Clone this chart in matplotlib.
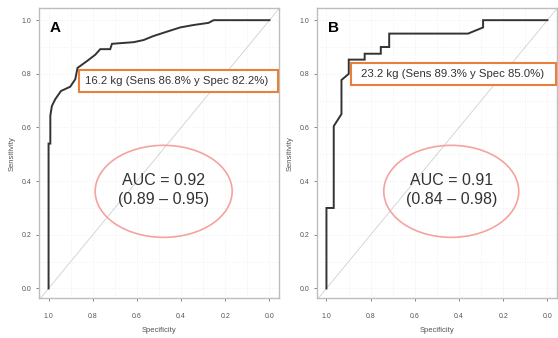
import matplotlib
matplotlib.use("Agg")
import matplotlib.pyplot as plt
from matplotlib.patches import Ellipse, Rectangle

plt.rcParams["font.family"] = ["Liberation Sans", "DejaVu Sans"]

# ── data: ROC curves (specificity, sensitivity) ──
spec_a = [1.0, 1.0, 0.992, 0.992, 0.985, 0.97, 0.944, 0.902, 0.879, 0.869, 0.827, 0.789,
          0.766, 0.721, 0.713, 0.615, 0.57, 0.525, 0.465, 0.404, 0.344, 0.276, 0.253, 0.0]
sens_a = [0.0, 0.54, 0.54, 0.644, 0.68, 0.705, 0.736, 0.752, 0.78, 0.822, 0.847, 0.871,
          0.892, 0.892, 0.912, 0.918, 0.926, 0.941, 0.957, 0.973, 0.982, 0.99, 1.0, 1.0]

spec_b = [1.0, 1.0, 0.967, 0.967, 0.932, 0.932, 0.899, 0.899, 0.827, 0.827, 0.754, 0.754,
          0.716, 0.716, 0.359, 0.291, 0.291, 0.0]
sens_b = [0.0, 0.30, 0.30, 0.605, 0.65, 0.777, 0.80, 0.853, 0.853, 0.875, 0.875, 0.90,
          0.90, 0.95, 0.95, 0.973, 1.0, 1.0]

panels = ["A", "B"]
cutoff_labels = ["16.2 kg (Sens 86.8% y Spec 82.2%)", "23.2 kg (Sens 89.3% y Spec 85.0%)"]
auc_labels = ["AUC = 0.92\n(0.89 – 0.95)", "AUC = 0.91\n(0.84 – 0.98)"]
ticks = [1.0, 0.8, 0.6, 0.4, 0.2, 0.0]
tick_labels = ["1.0", "0.8", "0.6", "0.4", "0.2", "0.0"]

ORANGE = "#e8803a"
SALMON = "#f5a3a0"
DARK = "#333333"
FRAME = "#bdbdbd"

fig = plt.figure(figsize=(5.58, 3.38), dpi=100)
fig.patch.set_facecolor("white")

lefts = [0.070, 0.568]
# box: x left, y bottom, x right, y top, text x, text y (data coords)
boxes = [(0.861, 0.731, -0.039, 0.813, 0.421, 0.772),
         (0.890, 0.757, -0.038, 0.840, 0.428, 0.800)]
ellipses = [(0.479, 0.362, 0.62, 0.343), (0.435, 0.362, 0.611, 0.343)]

for i, (spec, sens) in enumerate([(spec_a, sens_a), (spec_b, sens_b)]):
    ax = fig.add_axes([lefts[i], 0.118, 0.430, 0.858])
    ax.set_xlim(1.043, -0.043)
    ax.set_ylim(-0.036, 1.045)

    # grid
    for v in [0.0, 0.1, 0.2, 0.3, 0.4, 0.5, 0.6, 0.7, 0.8, 0.9, 1.0]:
        ax.axhline(v, color="#ebebeb", lw=0.6, ls=(0, (1, 2)), zorder=0)
        ax.axvline(v, color="#ebebeb", lw=0.6, ls=(0, (1, 2)), zorder=0)

    # diagonal reference
    ax.plot([1.1, -0.1], [-0.1, 1.1], color="#d0d0d0", lw=0.6, zorder=1)

    # ROC curve
    ax.plot(spec, sens, color=DARK, lw=1.4, zorder=3, solid_joinstyle="miter")

    # cutoff box
    x0, y0, x1, y1, tx, ty = boxes[i]
    ax.add_patch(Rectangle((x0, y0), x1 - x0, y1 - y0, facecolor="white",
                           edgecolor=ORANGE, lw=1.5, zorder=4))
    ax.text(tx, ty, cutoff_labels[i], ha="center", va="center", fontsize=8.2,
            color=DARK, zorder=5)

    # AUC ellipse
    cx, cy, w, h = ellipses[i]
    ax.add_patch(Ellipse((cx, cy), w, h, facecolor="none", edgecolor=SALMON,
                         lw=1.2, zorder=4))
    ax.text(cx, cy + 0.005, auc_labels[i], ha="center", va="center", fontsize=11.5,
            color=DARK, linespacing=1.3, zorder=5)

    # panel letter
    ax.text(0.995, 0.972, panels[i], ha="left", va="center", fontsize=11,
            fontweight="bold", color="black")

    ax.set_xticks(ticks)
    ax.set_xticklabels(tick_labels)
    ax.set_yticks(ticks)
    ax.set_yticklabels(tick_labels)
    ax.tick_params(labelsize=5, colors="#555555", length=2.5, width=0.5)
    ax.tick_params(axis="x", pad=8)
    ax.tick_params(axis="y", pad=3)
    ax.set_xlabel("Specificity", fontsize=5.5, color="#555555", labelpad=5)
    ax.set_ylabel("Sensitivity", fontsize=5.5, color="#555555", labelpad=4)
    for s in ax.spines.values():
        s.set_color(FRAME)
        s.set_linewidth(1.0)

fig.savefig("out.png", dpi=100, facecolor="white")
